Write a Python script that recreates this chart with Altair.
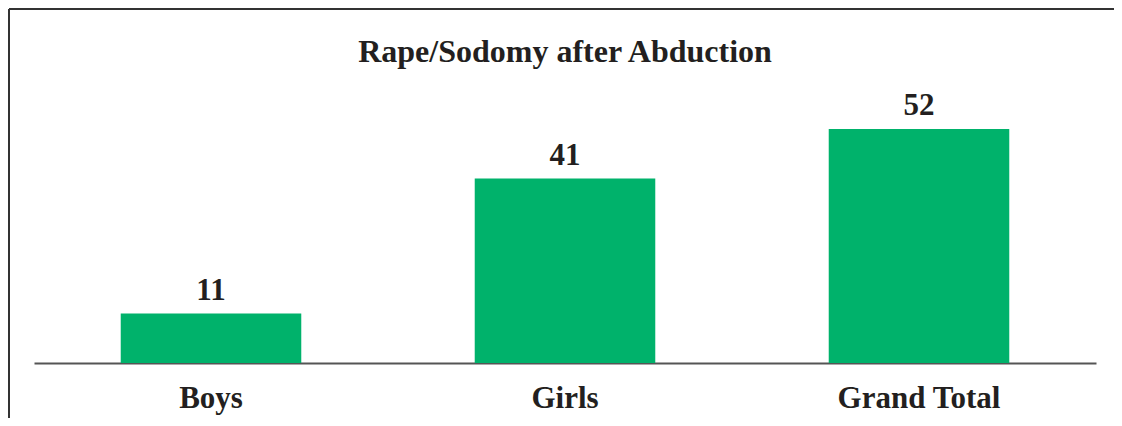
import altair as alt
import pandas as pd

categories = ["Boys", "Girls", "Grand Total"]
values = [11, 41, 52]
title_text = ["Rape/Sodomy after Abduction"]

df = pd.DataFrame({"category": categories, "value": values})

W, H = 1062, 270
PAD = {"left": 26, "top": 85, "right": 18, "bottom": 55}
GREEN = "#00B26B"
FONT = "Liberation Serif"
TEXT = "#231f20"

x = alt.X(
    "category:N",
    sort=categories,
    scale=alt.Scale(paddingInner=0.49, paddingOuter=0.245),
    axis=alt.Axis(
        title=None, labelAngle=0, ticks=False, tickSize=0, labelPadding=44,
        labelBaseline="alphabetic", labelFont=FONT, labelFontSize=31,
        labelFontWeight="bold", labelColor=TEXT, domainColor="#555",
        domainWidth=2, grid=False,
    ),
)
y = alt.Y("value:Q", scale=alt.Scale(domain=[0, 60]), axis=None)

base = alt.Chart(df)
bars = base.mark_bar(color=GREEN).encode(x=x, y=y)
labels = base.mark_text(
    font=FONT, fontSize=31, fontWeight="bold", baseline="alphabetic",
    dy=-14, color=TEXT,
).encode(x=x, y=y, text="value:Q")

title = alt.Chart(pd.DataFrame({"t": title_text})).mark_text(
    font=FONT, fontSize=32, fontWeight="bold", baseline="alphabetic",
    align="center", color=TEXT,
).encode(x=alt.value(W / 2), y=alt.value(-31), text="t:N")

one = pd.DataFrame({"a": [0]})
top_border = alt.Chart(one).mark_rule(color="#333", strokeWidth=2).encode(
    x=alt.value(-PAD["left"] + 1), x2=alt.value(W + PAD["right"]), y=alt.value(-84)
)
left_border = alt.Chart(one).mark_rule(color="#333", strokeWidth=2).encode(
    x=alt.value(-PAD["left"] + 1), y=alt.value(-84), y2=alt.value(H + PAD["bottom"])
)

chart = (
    alt.layer(bars, labels, title, top_border, left_border)
    .properties(
        width=W, height=H,
        autosize=alt.AutoSizeParams(type="none"),
        padding=PAD, background="white",
    )
    .configure_view(stroke=None)
)

chart.save("out.html", embed_options={"renderer": "svg", "actions": False})
